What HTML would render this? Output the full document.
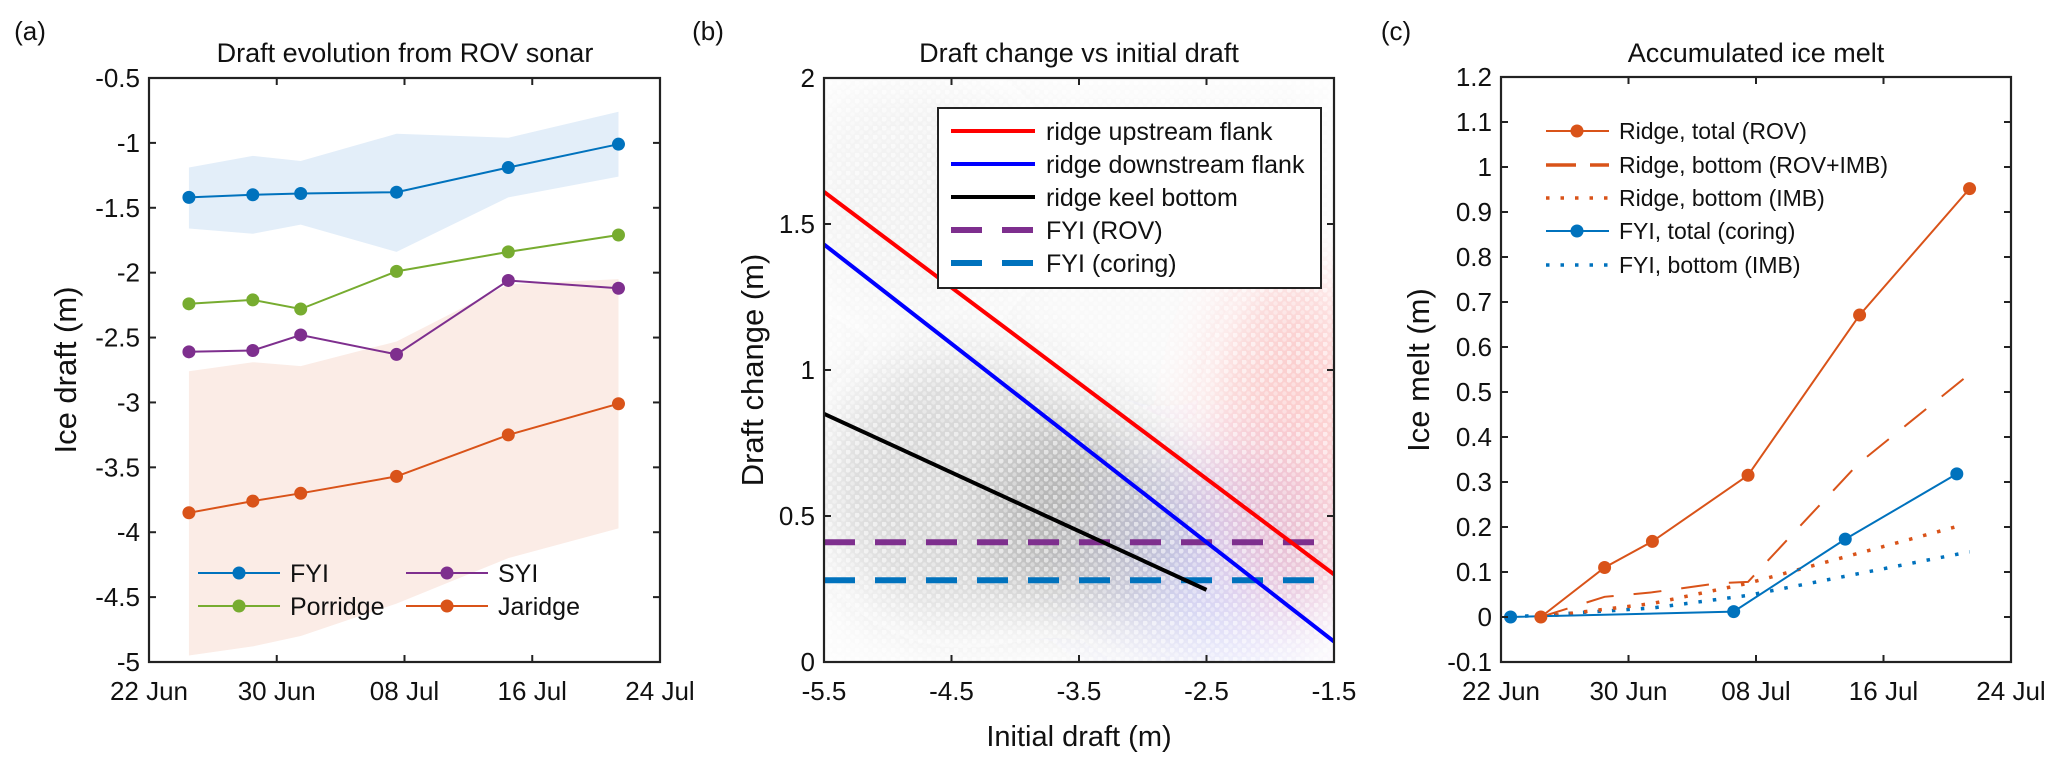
<!DOCTYPE html>
<html><head><meta charset="utf-8">
<style>
html,body{margin:0;padding:0;background:#fff;}
svg{display:block;font-family:"Liberation Sans",Arial,sans-serif;}
</style></head>
<body>
<svg id="fig" width="2067" height="769" viewBox="0 0 2067 769" xmlns="http://www.w3.org/2000/svg">
<defs>
<filter id="blur" x="-50%" y="-50%" width="200%" height="200%"><feGaussianBlur stdDeviation="30"/></filter>
<clipPath id="clipb"><rect x="824" y="78" width="510" height="584"/></clipPath>
<pattern id="dots" x="0" y="0" width="9" height="9" patternUnits="userSpaceOnUse">
<circle cx="2" cy="2" r="2.6" fill="#fff" fill-opacity="0.55"/>
<circle cx="6.5" cy="6.5" r="2.2" fill="#fff" fill-opacity="0.35"/>
</pattern>
</defs>
</svg>
<script>
// ---------- Panel (a) data ----------
const aDays = [2.5, 6.5, 9.5, 15.5, 22.5, 29.4];
const aFYI = [-1.42, -1.40, -1.39, -1.38, -1.19, -1.01];
const aPorridge = [-2.24, -2.21, -2.28, -1.99, -1.84, -1.71];
const aSYI = [-2.61, -2.60, -2.48, -2.63, -2.06, -2.12];
const aJaridge = [-3.85, -3.76, -3.70, -3.57, -3.25, -3.01];
const aFYIUpper = [-1.19, -1.10, -1.14, -0.93, -0.96, -0.76];
const aFYILower = [-1.66, -1.70, -1.63, -1.84, -1.42, -1.26];
const aRidgeUpper = [-2.76, -2.69, -2.72, -2.53, -2.09, -2.05];
const aRidgeLower = [-4.95, -4.88, -4.80, -4.55, -4.20, -3.97];
const aYTicks = [-0.5,-1,-1.5,-2,-2.5,-3,-3.5,-4,-4.5,-5];
const dateTickDays = [0, 8, 16, 24, 32];
const dateTickLabels = ["22 Jun","30 Jun","08 Jul","16 Jul","24 Jul"];
// ---------- Panel (b) data ----------
const bXTicks = [-5.5,-4.5,-3.5,-2.5,-1.5];
const bYTicks = [0,0.5,1,1.5,2];
const bYTickLabels = ["0","0.5","1","1.5","2"];
const bUpstream = [[-5.5,1.61],[-1.5,0.30]];
const bDownstream = [[-5.5,1.43],[-1.5,0.07]];
const bKeel = [[-5.5,0.85],[-2.5,0.247]];
const bFYIROV = 0.41;
const bFYICoring = 0.28;
// ---------- Panel (c) data ----------
const cRidgeTotalDays = [2.5, 6.5, 9.5, 15.5, 22.5, 29.4];
const cRidgeTotal = [0, 0.11, 0.168, 0.315, 0.671, 0.952];
const cRidgeBotDays = [2.5, 6.5, 9.5, 13.6, 15.5, 22.4, 29.4];
const cRidgeBot = [0, 0.045, 0.055, 0.075, 0.078, 0.34, 0.54];
const cRidgeIMBDays = [2.5, 9.5, 15.5, 29.0];
const cRidgeIMB = [0, 0.03, 0.075, 0.205];
const cFYITotalDays = [0.6, 14.6, 21.6, 28.6];
const cFYITotal = [0, 0.012, 0.173, 0.318];
const cFYIIMBDays = [0.6, 9.5, 15.5, 29.4];
const cFYIIMB = [0, 0.02, 0.048, 0.145];
const cYTicks = [-0.1,0,0.1,0.2,0.3,0.4,0.5,0.6,0.7,0.8,0.9,1,1.1,1.2];

const NS = "http://www.w3.org/2000/svg";
const svg = document.getElementById('fig');
function el(tag, attrs, parent){
  const e = document.createElementNS(NS, tag);
  for (const k in attrs) e.setAttribute(k, attrs[k]);
  (parent||svg).appendChild(e);
  return e;
}
function lin(d0,d1,r0,r1){ return v => r0 + (v-d0)/(d1-d0)*(r1-r0); }
function fmt(v){ return String(Math.round(v*10)/10); }
const BLUE="#0072BD", ORANGE="#D95319", GREEN="#77AC30", PURPLE="#7E2F8E";

function txt(x,y,s,size,anchor,name,parent,extra){
  const t = el('text',Object.assign({x:x,y:y,'font-size':size,'text-anchor':anchor||'middle',fill:'#111'},extra||{}),parent);
  t.textContent = s;
  
  
  return t;
}
function frame(L,T,R,B,name){
  const r = el('rect',{x:L,y:T,width:R-L,height:B-T,fill:'none',stroke:'#222','stroke-width':2.2});
  
  
}
function polyline(xs,ys,sx,sy,attrs,name){
  const pts = xs.map((d,i)=>sx(d).toFixed(1)+','+sy(ys[i]).toFixed(1)).join(' ');
  const p = el('polyline',Object.assign({points:pts,fill:'none'},attrs));
  
  
  return p;
}
function markers(xs,ys,sx,sy,color,name){
  xs.forEach((d,i)=>{
    const c = el('circle',{cx:sx(d),cy:sy(ys[i]),r:6.5,fill:color});
    
    
  });
}
function band(xs,up,lo,sx,sy,color,name){
  const pts = xs.map((d,i)=>sx(d)+','+sy(up[i])).concat(xs.slice().reverse().map((d,j)=>{const i=xs.length-1-j;return sx(d)+','+sy(lo[i]);})).join(' ');
  const p = el('polygon',{points:pts,fill:color});
  
  
}
function yTicks(vals,labels,sy,L,R,name){
  vals.forEach((v,i)=>{
    const y = sy(v);
    el('line',{x1:L,y1:y,x2:L+7,y2:y,stroke:'#222','stroke-width':2});
    el('line',{x1:R,y1:y,x2:R-7,y2:y,stroke:'#222','stroke-width':2});
    txt(L-9,y+9,labels[i],26,'end',name);
  });
}
function xTicks(vals,labels,sx,T,B,name,ly){
  vals.forEach((v,i)=>{
    const x = sx(v);
    el('line',{x1:x,y1:B,x2:x,y2:B-7,stroke:'#222','stroke-width':2});
    el('line',{x1:x,y1:T,x2:x,y2:T+7,stroke:'#222','stroke-width':2});
    txt(x,ly,labels[i],26,'middle',name);
  });
}

// ================= Panel (a) =================
(function(){
  const L=149,R=660,T=78,B=662;
  const sx = lin(0,32,L,R), sy = lin(-5,-0.5,B,T);
  band(aDays,aFYIUpper,aFYILower,sx,sy,'#e3eef9','fyi-range-band');
  band(aDays,aRidgeUpper,aRidgeLower,sx,sy,'#fbece6','ridge-range-band');
  polyline(aDays,aFYI,sx,sy,{stroke:BLUE,'stroke-width':2},'fyi-line');
  markers(aDays,aFYI,sx,sy,BLUE,'fyi');
  polyline(aDays,aPorridge,sx,sy,{stroke:GREEN,'stroke-width':2},'porridge-line');
  markers(aDays,aPorridge,sx,sy,GREEN,'porridge');
  polyline(aDays,aSYI,sx,sy,{stroke:PURPLE,'stroke-width':2},'syi-line');
  markers(aDays,aSYI,sx,sy,PURPLE,'syi');
  polyline(aDays,aJaridge,sx,sy,{stroke:ORANGE,'stroke-width':2},'jaridge-line');
  markers(aDays,aJaridge,sx,sy,ORANGE,'jaridge');
  frame(L,T,R,B,'panel-a-axes');
  yTicks(aYTicks,aYTicks.map(fmt),sy,L,R,'y-tick-label');
  xTicks(dateTickDays,dateTickLabels,sx,T,B,'x-tick-label',700);
  txt(405,62,'Draft evolution from ROV sonar',27,'middle','panel-a-title');
  txt(30,40,'(a)',26,'middle','panel-a-label');
  txt(0,0,'Ice draft (m)',31,'middle','panel-a-y-axis-title',null,{transform:'translate(76,370) rotate(-90)'});
  const leg = [['FYI',BLUE,198,573],['Porridge',GREEN,198,606],['SYI',PURPLE,406,573],['Jaridge',ORANGE,406,606]];
  leg.forEach(it=>{
    const g = el('g',{});
    
    
    el('line',{x1:it[2],y1:it[3],x2:it[2]+82,y2:it[3],stroke:it[1],'stroke-width':2},g);
    el('circle',{cx:it[2]+41,cy:it[3],r:6.5,fill:it[1]},g);
    txt(it[2]+92,it[3]+9,it[0],25,'start','legend-label',g);
  });
})();

// ================= Panel (b) =================
(function(){
  const L=824,R=1334,T=78,B=662;
  const sx = lin(-5.5,-1.5,L,R), sy = lin(0,2,B,T);
  const g = el('g',{'clip-path':'url(#clipb)'});
  
  
  const haze = el('g',{filter:'url(#blur)'},g);
  el('rect',{x:L,y:T,width:R-L,height:B-T,fill:'#000','fill-opacity':0.025},haze);
  el('ellipse',{cx:sx(-4.4),cy:sy(0.6),rx:140,ry:130,fill:'#555','fill-opacity':0.2},haze);
  el('ellipse',{cx:sx(-3.4),cy:sy(0.5),rx:100,ry:100,fill:'#333','fill-opacity':0.22},haze);
  el('ellipse',{cx:sx(-2.8),cy:sy(0.35),rx:80,ry:100,fill:'#5050c0','fill-opacity':0.12},haze);
  el('ellipse',{cx:sx(-1.8),cy:sy(0.75),rx:80,ry:170,fill:'#ff3030','fill-opacity':0.22},haze);
  el('ellipse',{cx:sx(-2.2),cy:sy(0.35),rx:90,ry:110,fill:'#6060ff','fill-opacity':0.12},haze);
  el('ellipse',{cx:sx(-4.8),cy:sy(1.6),rx:120,ry:110,fill:'#999','fill-opacity':0.08},haze);
  el('rect',{x:L,y:T,width:R-L,height:B-T,fill:'url(#dots)'},g);
  function seg(pts,color,w,dash,name){
    const l = el('line',{x1:sx(pts[0][0]),y1:sy(pts[0][1]),x2:sx(pts[1][0]),y2:sy(pts[1][1]),stroke:color,'stroke-width':w},g);
    if(dash) l.setAttribute('stroke-dasharray',dash);
    
    
  }
  seg([[-5.5,bFYIROV],[-1.5,bFYIROV]],PURPLE,6,'31 20','fyi-rov-line');
  seg([[-5.5,bFYICoring],[-1.5,bFYICoring]],BLUE,6,'31 20','fyi-coring-line');
  seg(bKeel,'#000',4,null,'ridge-keel-bottom-line');
  seg(bDownstream,'#0000ff',4,null,'ridge-downstream-line');
  seg(bUpstream,'#ff0000',4,null,'ridge-upstream-line');
  frame(L,T,R,B,'panel-b-axes');
  yTicks(bYTicks,bYTickLabels,sy,L,R,'y-tick-label');
  xTicks(bXTicks,bXTicks.map(fmt),sx,T,B,'x-tick-label',700);
  txt(1079,62,'Draft change vs initial draft',27,'middle','panel-b-title');
  txt(708,40,'(b)',26,'middle','panel-b-label');
  txt(1079,746,'Initial draft (m)',29,'middle','x-axis-title');
  txt(0,0,'Draft change (m)',31,'middle','panel-b-y-axis-title',null,{transform:'translate(763,370) rotate(-90)'});
  const lg = el('g',{});
  
  
  el('rect',{x:938,y:108,width:383,height:180,fill:'#fff',stroke:'#222','stroke-width':2},lg);
  const items=[['ridge upstream flank','#ff0000',null],['ridge downstream flank','#0000ff',null],['ridge keel bottom','#000',null],['FYI (ROV)',PURPLE,'31 20'],['FYI (coring)',BLUE,'31 20']];
  items.forEach((it,i)=>{
    const y=131+i*33;
    const l=el('line',{x1:951,y1:y,x2:1035,y2:y,stroke:it[1],'stroke-width':i<3?4:6},lg);
    if(it[2]) l.setAttribute('stroke-dasharray',it[2]);
    txt(1046,y+9,it[0],25,'start','legend-label',lg);
  });
})();

// ================= Panel (c) =================
(function(){
  const L=1501,R=2011,T=77,B=662;
  const sx = lin(0,32,L,R), sy = lin(-0.1,1.2,B,T);
  polyline(cFYIIMBDays,cFYIIMB,sx,sy,{stroke:BLUE,'stroke-width':3.5,'stroke-dasharray':'3.5 11'},'fyi-bottom-imb-line');
  polyline(cRidgeIMBDays,cRidgeIMB,sx,sy,{stroke:ORANGE,'stroke-width':3.5,'stroke-dasharray':'3.5 11'},'ridge-bottom-imb-line');
  polyline(cRidgeBotDays,cRidgeBot,sx,sy,{stroke:ORANGE,'stroke-width':2,'stroke-dasharray':'28 20'},'ridge-bottom-rov-imb-line');
  polyline(cFYITotalDays,cFYITotal,sx,sy,{stroke:BLUE,'stroke-width':2},'fyi-total-line');
  markers(cFYITotalDays,cFYITotal,sx,sy,BLUE,'fyi-total');
  polyline(cRidgeTotalDays,cRidgeTotal,sx,sy,{stroke:ORANGE,'stroke-width':2},'ridge-total-line');
  markers(cRidgeTotalDays,cRidgeTotal,sx,sy,ORANGE,'ridge-total');
  frame(L,T,R,B,'panel-c-axes');
  yTicks(cYTicks,cYTicks.map(fmt),sy,L,R,'y-tick-label');
  xTicks(dateTickDays,dateTickLabels,sx,T,B,'x-tick-label',700);
  txt(1756,62,'Accumulated ice melt',27,'middle','panel-c-title');
  txt(1396,40,'(c)',26,'middle','panel-c-label');
  txt(0,0,'Ice melt (m)',31,'middle','panel-c-y-axis-title',null,{transform:'translate(1429,370) rotate(-90)'});
  const items=[['Ridge, total (ROV)',ORANGE,null,true],['Ridge, bottom (ROV+IMB)',ORANGE,'30 14',false],['Ridge, bottom (IMB)',ORANGE,'3.5 11',false],['FYI, total (coring)',BLUE,null,true],['FYI, bottom (IMB)',BLUE,'3.5 11',false]];
  const ys=[131,165,198,231,265];
  items.forEach((it,i)=>{
    const g = el('g',{});
    
    
    const l=el('line',{x1:1546,y1:ys[i],x2:1609,y2:ys[i],stroke:it[1],'stroke-width':(it[2]&&it[2][0]==='3')?3.5:2},g);
    if(it[2]) l.setAttribute('stroke-dasharray',it[2]);
    if(it[3]) el('circle',{cx:1577,cy:ys[i],r:6.5,fill:it[1]},g);
    txt(1619,ys[i]+8,it[0],23,'start','legend-label',g);
  });
})();
</script>
</body></html>
